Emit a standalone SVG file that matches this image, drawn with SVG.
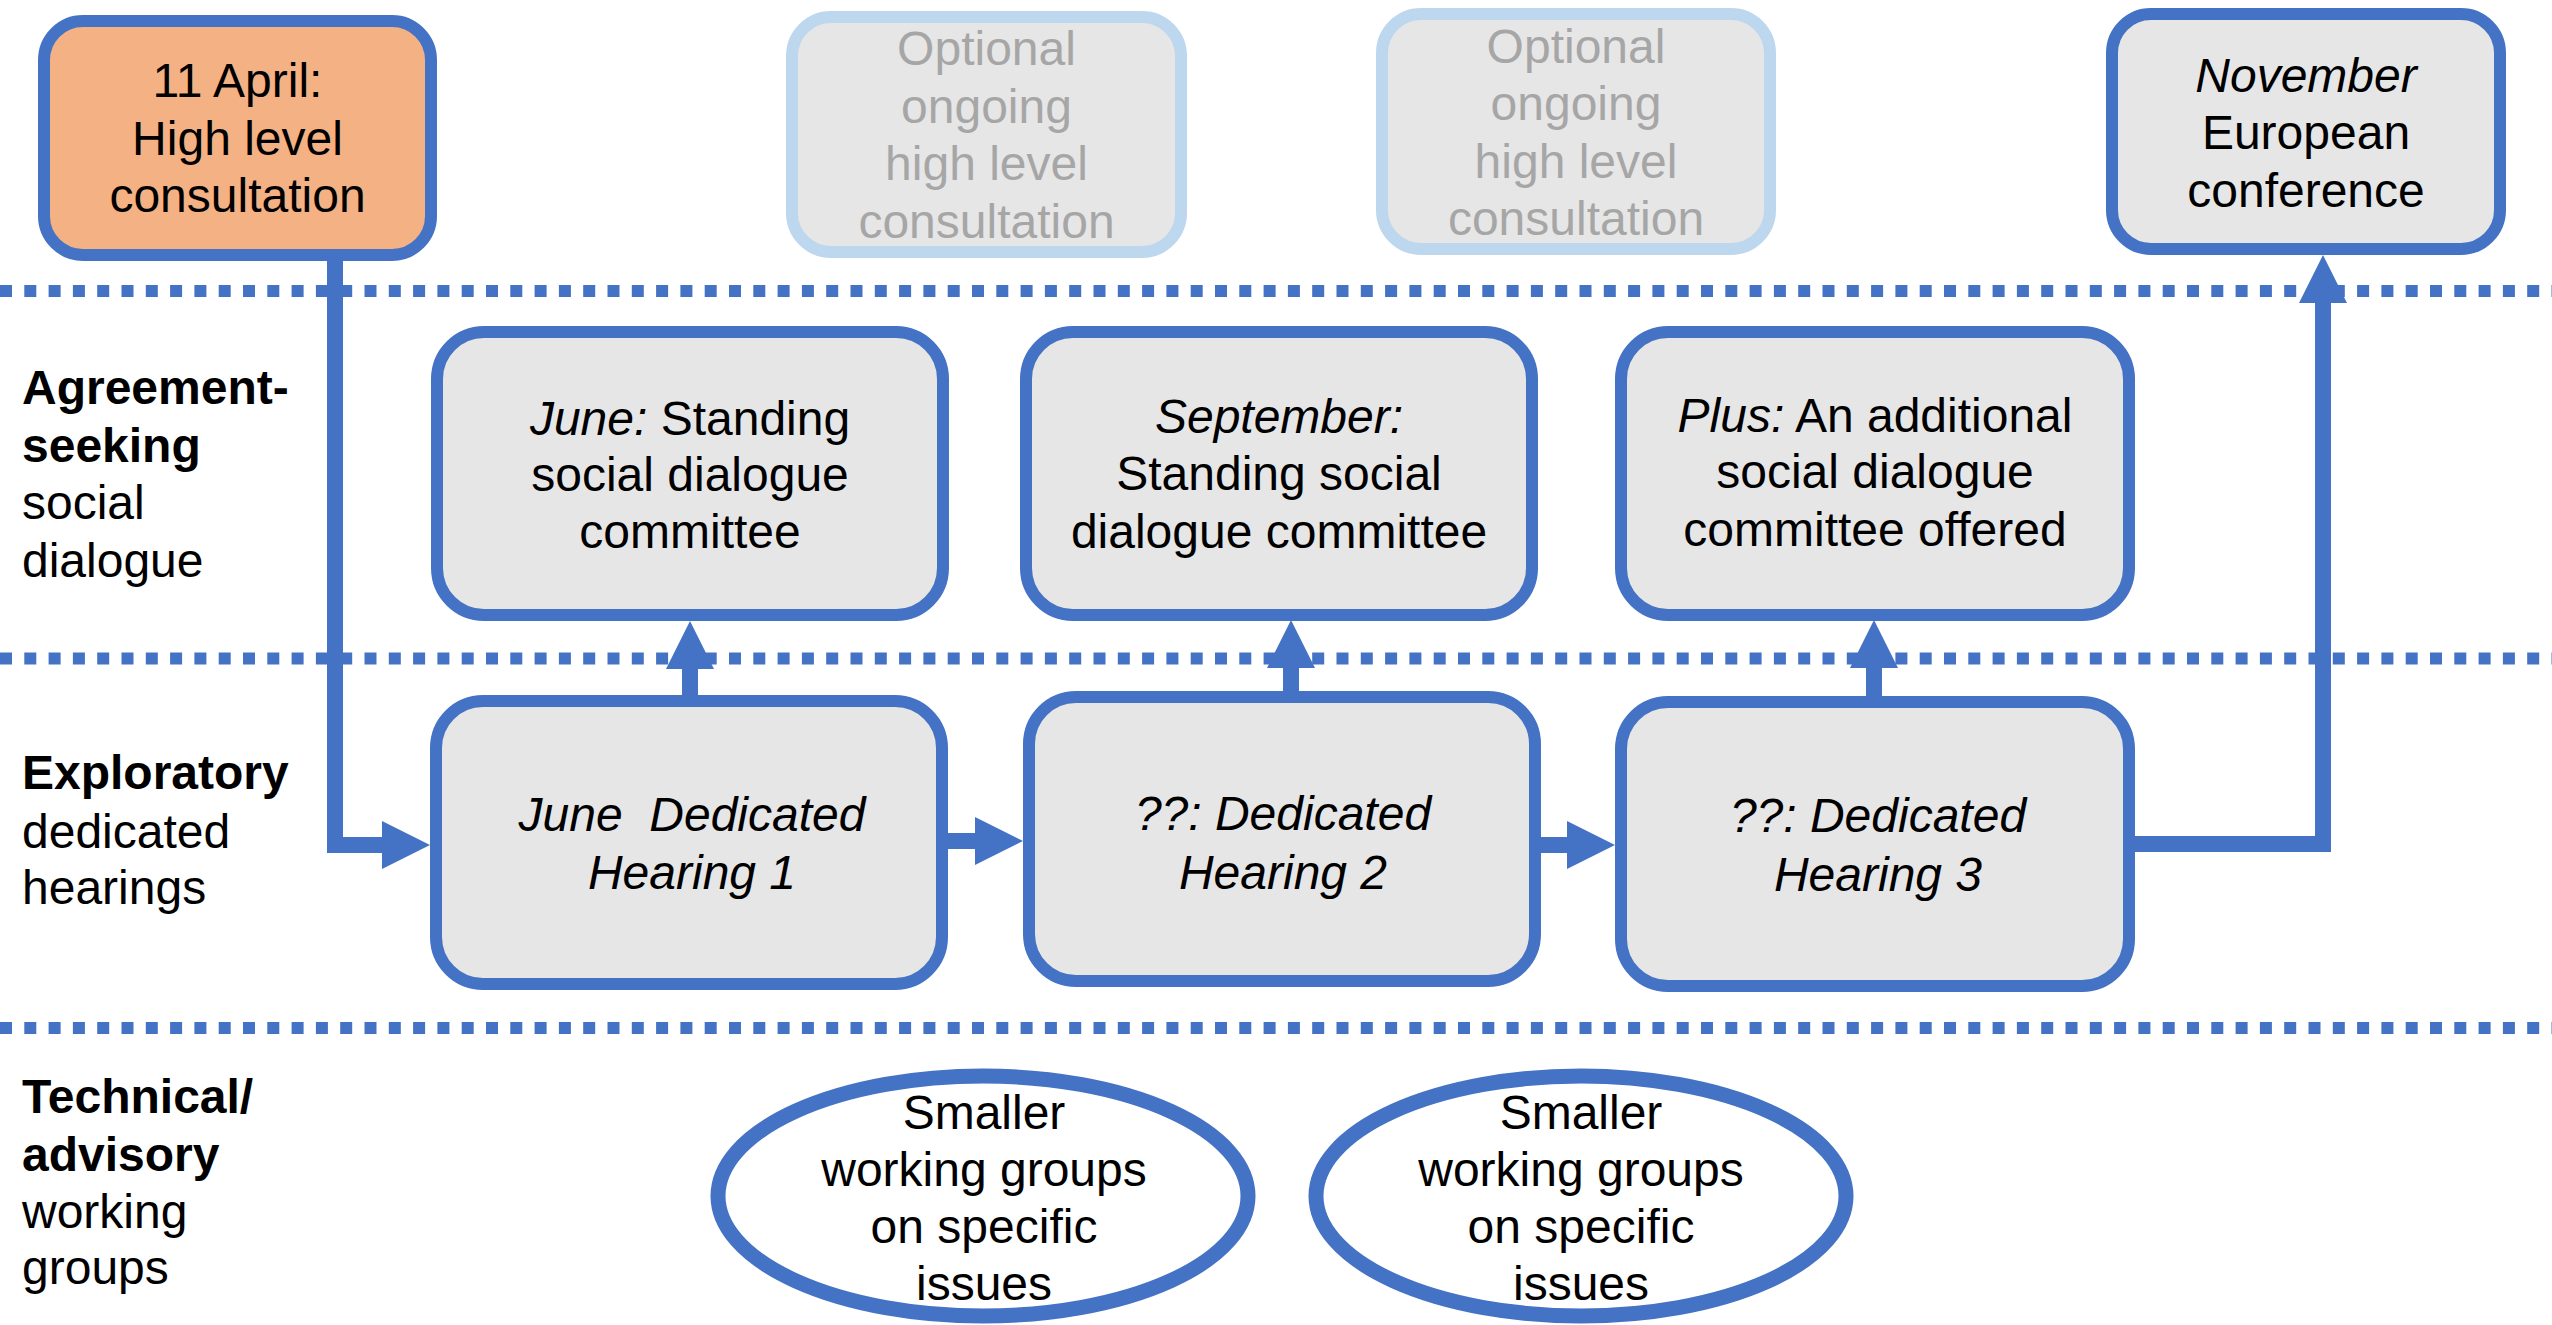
<svg xmlns="http://www.w3.org/2000/svg" width="2552" height="1325" viewBox="0 0 2552 1325">
<style>
.lane{stroke:#4472C4;stroke-width:12;stroke-dasharray:12 12.3;fill:none}
.box{fill:#E6E6E6;stroke:#4472C4;stroke-width:12}
.start{fill:#F4B183;stroke:#4472C4;stroke-width:12}
.opt{fill:#E6E6E6;stroke:#BDD7EE;stroke-width:12}
.ell{fill:#FFFFFF;stroke:#4472C4;stroke-width:15}
.conn{stroke:#4472C4;stroke-width:16;fill:none;stroke-linejoin:miter;stroke-linecap:butt}
text{font-family:"Liberation Sans",Arial,sans-serif;font-size:48px;fill:#000000}
.c{text-anchor:middle}
.g{fill:#A6A6A6}
.b{font-weight:bold}
.i{font-style:italic}
</style>
<defs>
<marker id="arr" viewBox="0 0 3 3" refX="0" refY="1.5" markerWidth="3" markerHeight="3" markerUnits="strokeWidth" orient="auto">
<path d="M0,0 L3,1.5 L0,3 z" fill="#4472C4"/>
</marker>
</defs>
<rect width="2552" height="1325" fill="#FFFFFF"/>
<g id="lanes">
<line class="lane" x1="0" y1="291" x2="2552" y2="291"/>
<line class="lane" x1="0" y1="658.5" x2="2552" y2="658.5"/>
<line class="lane" x1="0" y1="1028" x2="2552" y2="1028"/>
</g>
<g id="lane-labels">
<text x="22" y="404" class="b">Agreement-</text>
<text x="22" y="461.5" class="b">seeking</text>
<text x="22" y="519">social</text>
<text x="22" y="576.5">dialogue</text>
<text x="22" y="788.5" class="b">Exploratory</text>
<text x="22" y="847.5">dedicated</text>
<text x="22" y="904">hearings</text>
<text x="22" y="1113" class="b">Technical/</text>
<text x="22" y="1171" class="b">advisory</text>
<text x="22" y="1228">working</text>
<text x="22" y="1284">groups</text>
</g>
<g id="connectors">
<path class="conn" d="M335 254 V845 H382" marker-end="url(#arr)"/>
<path class="conn" d="M943 841 H975" marker-end="url(#arr)"/>
<path class="conn" d="M1535 845 H1567" marker-end="url(#arr)"/>
<path class="conn" d="M2129 844 H2323 V303" marker-end="url(#arr)"/>
<path class="conn" d="M690 701 V669" marker-end="url(#arr)"/>
<path class="conn" d="M1291 697 V668" marker-end="url(#arr)"/>
<path class="conn" d="M1874 702 V668" marker-end="url(#arr)"/>
</g>
<g id="april-consultation">
<rect class="start" x="44" y="21" width="387" height="234" rx="39"/>
<text class="c" x="237.5" y="97">11 April:</text>
<text class="c" x="237.5" y="154.5">High level</text>
<text class="c" x="237.5" y="212">consultation</text>
</g>
<g id="optional-1">
<rect class="opt" x="792" y="17" width="389" height="235" rx="39"/>
<text class="c g" x="986.5" y="65">Optional</text>
<text class="c g" x="986.5" y="122.5">ongoing</text>
<text class="c g" x="986.5" y="180">high level</text>
<text class="c g" x="986.5" y="237.5">consultation</text>
</g>
<g id="optional-2">
<rect class="opt" x="1382" y="14" width="388" height="235" rx="39"/>
<text class="c g" x="1576" y="62.5">Optional</text>
<text class="c g" x="1576" y="120">ongoing</text>
<text class="c g" x="1576" y="177.5">high level</text>
<text class="c g" x="1576" y="235">consultation</text>
</g>
<g id="november-conference">
<rect class="box" x="2112" y="14" width="388" height="235" rx="39"/>
<text class="c i" x="2306" y="91.5">November</text>
<text class="c" x="2306" y="149">European</text>
<text class="c" x="2306" y="206.5">conference</text>
</g>
<g id="june-committee">
<rect class="box" x="437" y="332" width="506" height="283" rx="47"/>
<text class="c" x="690" y="435"><tspan class="i">June:</tspan> Standing</text>
<text class="c" x="690" y="491">social dialogue</text>
<text class="c" x="690" y="548">committee</text>
</g>
<g id="september-committee">
<rect class="box" x="1026" y="332" width="506" height="283" rx="47"/>
<text class="c i" x="1279" y="433">September:</text>
<text class="c" x="1279" y="490">Standing social</text>
<text class="c" x="1279" y="548">dialogue committee</text>
</g>
<g id="additional-committee">
<rect class="box" x="1621" y="332" width="508" height="283" rx="47"/>
<text class="c" x="1875" y="432"><tspan class="i">Plus:</tspan> An additional</text>
<text class="c" x="1875" y="488">social dialogue</text>
<text class="c" x="1875" y="545.5">committee offered</text>
</g>
<g id="hearing-1">
<rect class="box" x="436" y="701" width="506" height="283" rx="47"/>
<text class="c i" x="692" y="831" xml:space="preserve">June  Dedicated</text>
<text class="c i" x="692" y="889">Hearing 1</text>
</g>
<g id="hearing-2">
<rect class="box" x="1029" y="697" width="506" height="284" rx="47"/>
<text class="c i" x="1283" y="830">??: Dedicated</text>
<text class="c i" x="1283" y="889">Hearing 2</text>
</g>
<g id="hearing-3">
<rect class="box" x="1621" y="702" width="508" height="284" rx="47"/>
<text class="c i" x="1878" y="832">??: Dedicated</text>
<text class="c i" x="1878" y="891">Hearing 3</text>
</g>
<g id="working-groups-1">
<ellipse class="ell" cx="983" cy="1196" rx="265" ry="120"/>
<text class="c" x="984" y="1129">Smaller</text>
<text class="c" x="984" y="1186">working groups</text>
<text class="c" x="984" y="1243">on specific</text>
<text class="c" x="984" y="1300">issues</text>
</g>
<g id="working-groups-2">
<ellipse class="ell" cx="1581" cy="1196" rx="265" ry="120"/>
<text class="c" x="1581" y="1129">Smaller</text>
<text class="c" x="1581" y="1186">working groups</text>
<text class="c" x="1581" y="1243">on specific</text>
<text class="c" x="1581" y="1300">issues</text>
</g>
</svg>
